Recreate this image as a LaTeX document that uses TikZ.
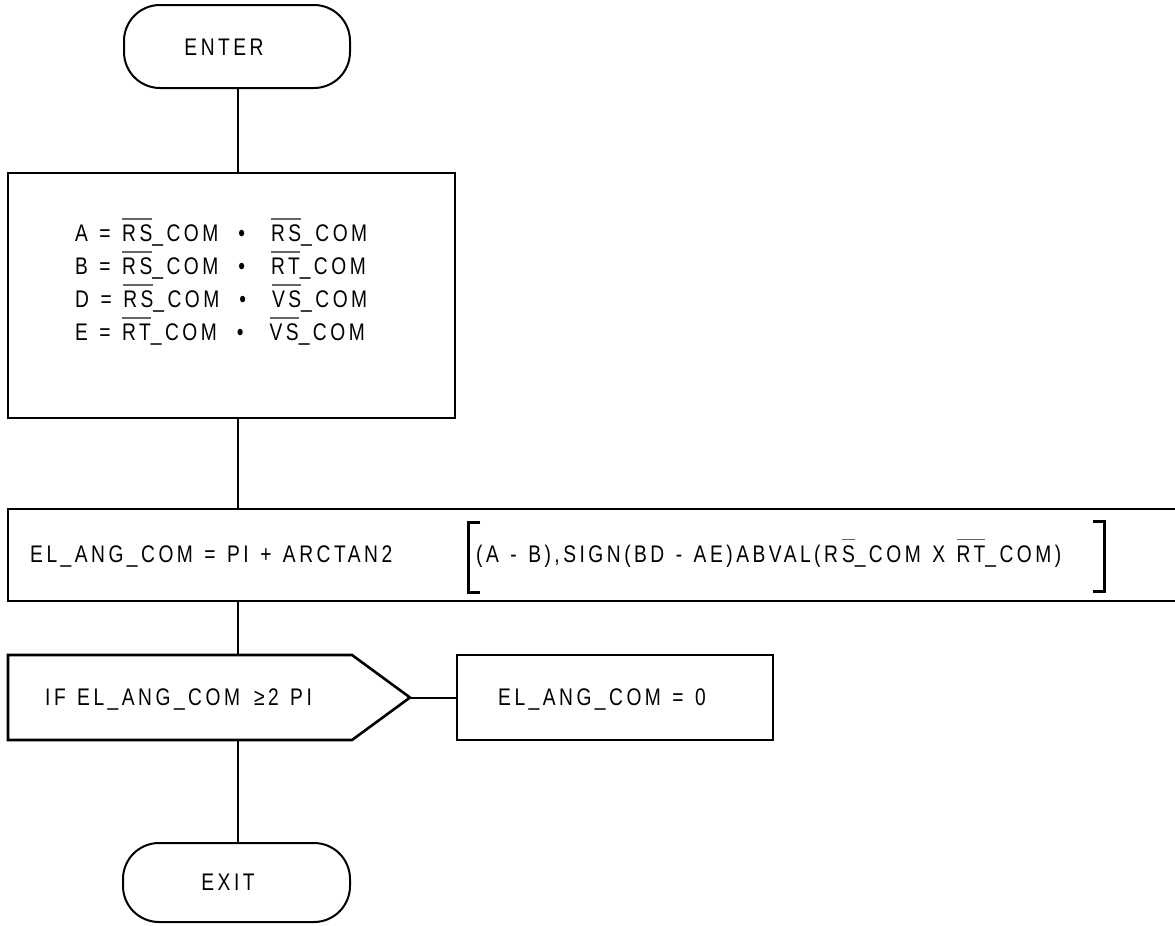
\documentclass[tikz,border=0pt]{standalone}
\usepackage{fontspec}
\setmainfont[LetterSpace=14.6,FakeStretch=0.8,WordSpace=1.3]{Liberation Sans}
\newcommand\ovl[1]{\setbox0\hbox{#1}\leavevmode\rlap{\color{black!60}\rule[22pt]{\wd0}{1.2pt}}\box0}
\newcommand\bul{\hspace{20pt}•\hspace{26pt}}
\begin{document}
\begin{tikzpicture}[x=1pt,y=-1pt,
  font=\fontsize{24}{28}\selectfont,
  box/.style={draw,line width=2.6pt,inner sep=0pt},
  term/.style={draw,line width=2pt,rounded corners=36pt,inner sep=0pt},
  link/.style={line width=2pt},
  brk/.style={line width=3pt},
  txt/.style={inner sep=0pt,anchor=base west}]
\useasboundingbox (0,0) rectangle (1175,926);
\clip (0,0) rectangle (1175,926);

% shapes
\node[term,minimum width=226pt,minimum height=83pt] (enter) at (237,46.5) {};
\node[inner sep=0pt] (entert) at (224,47) {ENTER};

\node[box,minimum width=447pt,minimum height=245pt] (box1) at (231.5,295.5) {};
\node[txt] (l1) at (75,241.5) {A = \ovl{RS}\_COM\bul\ovl{RS}\_COM};
\node[txt] (l2) at (75,274.5) {B = \ovl{RS}\_COM\bul\ovl{RT}\_COM};
\node[txt] (l3) at (75,307.5) {D = \ovl{RS}\_COM\bul\ovl{VS}\_COM};
\node[txt] (l4) at (75,340.5) {E = \ovl{RT}\_COM\bul\ovl{VS}\_COM};

\node[box,minimum width=1177pt,minimum height=92pt] (box2) at (596.5,555) {};
\node[txt] (f1) at (30,562) {EL\_ANG\_COM = PI + ARCTAN2};
\node[txt] (f2) at (476,562) {(A - B),SIGN(BD - AE)ABVAL(R\hspace{4pt}\ovl{S}\_COM X \ovl{RT}\_COM)};
\coordinate (lb) at (468,522);
\coordinate (rb) at (1104,521);
\draw[brk] ([xshift=12pt]lb) -- (lb) -- ([yshift=-70pt]lb) -- ([xshift=12pt,yshift=-70pt]lb);
\draw[brk] ([xshift=-11pt]rb) -- (rb) -- ([yshift=-70pt]rb) -- ([xshift=-11pt,yshift=-70pt]rb);

\coordinate (ifT) at (238,655);
\coordinate (ifB) at (238,740);
\coordinate (ifP) at (410,697.5);
\draw[line width=2.6pt,line join=miter] (8,655) -- (352,655) -- (ifP) -- (352,740) -- (8,740) -- cycle;
\node[txt] (ift) at (45,705.5) {IF EL\_ANG\_COM\hspace{14pt}≥2 PI};

\node[box,minimum width=316pt,minimum height=85pt] (zero) at (615,697.5) {};
\node[txt] (zerot) at (498,705.5) {EL\_ANG\_COM = 0};

\node[term,minimum width=227pt,minimum height=79pt] (exit) at (236.5,882.5) {};
\node[inner sep=0pt] (exitt) at (228,882) {EXIT};

% connectors
\draw[link] (enter.south -| ifT) -- (box1.north -| ifT);
\draw[link] (box1.south -| ifT) -- (box2.north -| ifT);
\draw[link] (box2.south -| ifT) -- (ifT);
\draw[link] (ifP) -- (zero.west);
\draw[link] (ifB) -- (exit.north -| ifT);
\end{tikzpicture}
\end{document}
